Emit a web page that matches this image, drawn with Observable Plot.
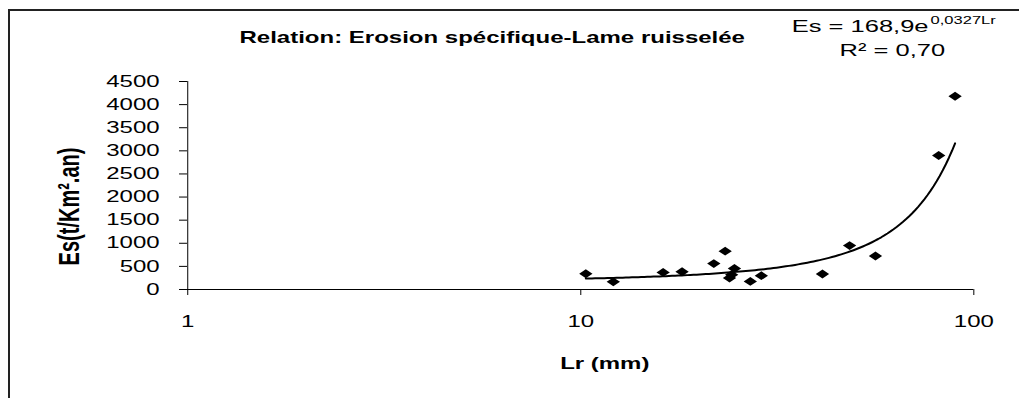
<!DOCTYPE html>
<html><head><meta charset="utf-8">
<script src="https://cdn.jsdelivr.net/npm/d3@7"></script>
<script src="https://cdn.jsdelivr.net/npm/@observablehq/plot@0.6"></script>
<style>
html,body{margin:0;padding:0;background:#fff;}
#wrap{position:relative;width:1019px;height:398px;overflow:hidden;background:#fff;}
#border{position:absolute;left:8px;top:9px;width:1100px;height:500px;border-left:2px solid #222;border-top:2px solid #222;pointer-events:none;}
</style></head><body><div id="wrap"><div id="chart"></div><div id="border"></div></div>
<script>
// Data
const lr = [10.3, 12.1, 16.2, 18.1, 21.8, 23.3, 23.9, 24.2, 24.6, 27.0, 28.8, 41.2, 48.3, 56.2, 81.4, 89.6];
const es = [340, 165, 370, 385, 560, 830, 250, 320, 455, 175, 300, 335, 950, 725, 2900, 4180];
const xTicks = [1, 10, 100];
const yTicks = [0, 500, 1000, 1500, 2000, 2500, 3000, 3500, 4000, 4500];
const trendA = 168.9;   // Es = 168,9 e^(0,0327 Lr)
const trendB = 0.0327;
const titleText = "Relation: Erosion spécifique-Lame ruisselée";
const eqMain = "Es = 168,9e";
const eqSup = "0,0327Lr";
const r2Text = "R² = 0,70";
const xLabel = "Lr (mm)";
const yLabel = "Es(t/Km².an)";

const W = 679, H = 398;
const points = lr.map((x, i) => ({lr: x, es: es[i]}));
const minX = d3.min(lr), maxX = d3.max(lr);
const trend = d3.range(0, 121).map(i => {
  const x = minX * Math.pow(maxX / minX, i / 120);
  return {lr: x, es: trendA * Math.exp(trendB * x)};
});

const ML = 124.6, MT = 81;
const t = (txt, o) => Plot.text([txt], Object.assign({frameAnchor: "top-left", text: d => d, fill: "#000"}, o));

const svg = Plot.plot({
  width: W, height: H,
  marginLeft: ML, marginRight: 30.6, marginTop: MT, marginBottom: 109,
  x: {type: "log", domain: [1, 100]},
  y: {domain: [0, 4500]},
  style: {fontFamily: "'Liberation Sans', Arial, sans-serif", fontSize: "16px", color: "#000", background: "transparent"},
  marks: [
    Plot.axisX({ticks: xTicks, tickFormat: d => String(d), tickSize: 6, tickPadding: 20, label: null, fontSize: 16, stroke: "#000"}),
    Plot.axisY({ticks: yTicks, tickFormat: d => String(d), tickSize: 5.3, tickPadding: 13.4, label: null, fontSize: 16, stroke: "#000"}),
    Plot.ruleY([0], {stroke: "#000", strokeWidth: 1}),
    Plot.ruleX([1], {stroke: "#000", strokeWidth: 1}),
    Plot.line(trend, {x: "lr", y: "es", stroke: "#000", strokeWidth: 2}),
    Plot.dot(points, {x: "lr", y: "es", symbol: "diamond2", r: 4, fill: "#000", stroke: "none"}),
    t(titleText, {dx: 327.5 - ML, dy: 42 - MT, textAnchor: "middle", lineAnchor: "bottom", fontWeight: "bold", fontSize: 16}),
    t(eqMain, {dx: 527.1 - ML, dy: 31 - MT, textAnchor: "start", lineAnchor: "bottom", fontSize: 17}),
    t(eqSup, {dx: 619.6 - ML, dy: 23 - MT, textAnchor: "start", lineAnchor: "bottom", fontSize: 11}),
    t(r2Text, {dx: 594.1 - ML, dy: 55 - MT, textAnchor: "middle", lineAnchor: "bottom", fontSize: 17}),
    t(xLabel, {dx: 402.5 - ML, dy: 368 - MT, textAnchor: "middle", lineAnchor: "bottom", fontWeight: "bold", fontSize: 16}),
    t(yLabel, {dx: 46 - ML, dy: 206 - MT, rotate: -90, textAnchor: "middle", lineAnchor: "middle", fontWeight: "bold", fontSize: 20})
  ]
});

svg.setAttribute("width", 1019);
svg.setAttribute("height", H);
svg.setAttribute("viewBox", `0 0 ${W} ${H}`);
svg.setAttribute("preserveAspectRatio", "none");
svg.style.width = "1019px";
svg.style.height = H + "px";
svg.style.maxWidth = "none";
svg.querySelectorAll("path, line").forEach(e => e.setAttribute("vector-effect", "non-scaling-stroke"));
document.getElementById("chart").appendChild(svg);
</script>
</body></html>
